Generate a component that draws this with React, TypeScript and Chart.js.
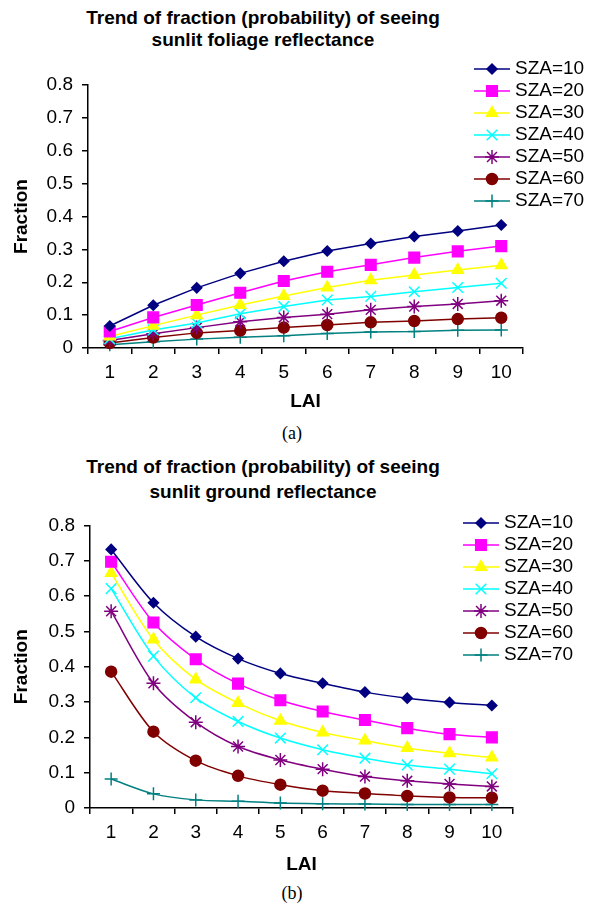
import React, { useEffect, useRef } from "react";
import { Chart, registerables } from "chart.js";
import { drawPoint } from "chart.js/helpers";

Chart.register(...registerables);

// ---------- data ----------
const LAI = ["1", "2", "3", "4", "5", "6", "7", "8", "9", "10"];
const SZA_LABELS = ["SZA=10", "SZA=20", "SZA=30", "SZA=40", "SZA=50", "SZA=60", "SZA=70"];
const Y_MIN = 0;
const Y_MAX = 0.8;
const Y_STEP = 0.1;

// (a) sunlit foliage
const foliage10 = [0.067, 0.130, 0.183, 0.227, 0.264, 0.295, 0.318, 0.339, 0.356, 0.374];
const foliage20 = [0.050, 0.093, 0.131, 0.168, 0.204, 0.232, 0.253, 0.275, 0.294, 0.310];
const foliage30 = [0.035, 0.068, 0.100, 0.131, 0.158, 0.184, 0.206, 0.222, 0.237, 0.252];
const foliage40 = [0.028, 0.055, 0.076, 0.104, 0.126, 0.146, 0.157, 0.171, 0.184, 0.197];
const foliage50 = [0.023, 0.043, 0.062, 0.080, 0.093, 0.103, 0.116, 0.126, 0.134, 0.144];
const foliage60 = [0.015, 0.032, 0.046, 0.053, 0.062, 0.070, 0.078, 0.082, 0.088, 0.092];
const foliage70 = [0.010, 0.019, 0.027, 0.033, 0.037, 0.044, 0.049, 0.050, 0.054, 0.055];

// (b) sunlit ground
const ground10 = [0.732, 0.581, 0.485, 0.423, 0.381, 0.353, 0.328, 0.311, 0.299, 0.290];
const ground20 = [0.697, 0.525, 0.421, 0.352, 0.305, 0.273, 0.249, 0.226, 0.209, 0.200];
const ground30 = [0.665, 0.477, 0.364, 0.297, 0.247, 0.214, 0.191, 0.170, 0.155, 0.143];
const ground40 = [0.621, 0.430, 0.312, 0.245, 0.198, 0.165, 0.141, 0.122, 0.110, 0.097];
const ground50 = [0.557, 0.353, 0.243, 0.174, 0.136, 0.110, 0.089, 0.077, 0.068, 0.061];
const ground60 = [0.386, 0.216, 0.134, 0.091, 0.066, 0.049, 0.041, 0.034, 0.030, 0.029];
const ground70 = [0.082, 0.040, 0.023, 0.019, 0.014, 0.012, 0.011, 0.010, 0.010, 0.010];

const FOLIAGE = [foliage10, foliage20, foliage30, foliage40, foliage50, foliage60, foliage70];
const GROUND = [ground10, ground20, ground30, ground40, ground50, ground60, ground70];

// ---------- styles ----------
const COLORS = ["#000080", "#FF00FF", "#FFFF00", "#00FFFF", "#800080", "#800000", "#008080"];
const POINT_STYLES = ["rectRot", "rect", "triangle", "crossRot", "star", "circle", "cross"];
const POINT_RADII = [5, 7.5, 6.5, 7.5, 7, 5.5, 6.5];
const FONT = "Arial, 'Liberation Sans', Helvetica, sans-serif";

const lineLegend = {
  id: "lineLegend",
  afterDraw(chart: any, _args: any, opts: any) {
    const { ctx } = chart;
    const { x, y, spacing, lineLen, gap, size } = opts;
    chart.data.datasets.forEach((ds: any, i: number) => {
      const cy = y + i * spacing;
      ctx.save();
      ctx.strokeStyle = ds.borderColor;
      ctx.lineWidth = ds.borderWidth;
      ctx.beginPath();
      ctx.moveTo(x, cy);
      ctx.lineTo(x + lineLen, cy);
      ctx.stroke();
      ctx.fillStyle = ds.pointBackgroundColor;
      ctx.strokeStyle = ds.pointBorderColor;
      ctx.lineWidth = ds.pointBorderWidth;
      drawPoint(
        ctx,
        { pointStyle: ds.pointStyle, radius: ds.pointRadius, borderWidth: ds.pointBorderWidth, rotation: 0 } as any,
        x + lineLen / 2,
        cy
      );
      ctx.fillStyle = "#000";
      ctx.font = `${size}px ${FONT}`;
      ctx.textBaseline = "middle";
      ctx.textAlign = "left";
      ctx.fillText(ds.label, x + lineLen + gap, cy);
      ctx.restore();
    });
  },
};

type Props = {
  series: number[][];
  top: number;
  height: number;
  pad: { left: number; top: number; right: number; bottom: number };
  yWidth: number;
  xHeight: number;
  legendX: number;
  legendY: number;
  tension: number;
};

function LineChart({ series, top, height, pad, yWidth, xHeight, legendX, legendY, tension }: Props) {
  const ref = useRef<HTMLCanvasElement>(null);
  useEffect(() => {
    const datasets = series.map((data, i) => ({
      label: SZA_LABELS[i],
      data,
      borderColor: COLORS[i],
      backgroundColor: COLORS[i],
      borderWidth: 1.5,
      pointStyle: POINT_STYLES[i],
      pointRadius: POINT_RADII[i],
      pointHoverRadius: POINT_RADII[i],
      pointBackgroundColor: COLORS[i],
      pointBorderColor: COLORS[i],
      pointBorderWidth: 1.5,
      tension,
      fill: false,
      clip: false as any,
    }));
    const chart = new Chart(ref.current as HTMLCanvasElement, {
      type: "line",
      data: { labels: LAI, datasets },
      plugins: [lineLegend],
      options: {
        responsive: false,
        animation: false,
        layout: { padding: pad },
        plugins: {
          legend: { display: false },
          tooltip: { enabled: false },
          title: { display: false },
          lineLegend: { x: legendX, y: legendY, spacing: 22, lineLen: 36, gap: 5, size: 19 },
        } as any,
        scales: {
          x: {
            type: "category",
            offset: true,
            grid: { offset: true, drawOnChartArea: false, tickLength: 6, color: "#000", lineWidth: 1.5 },
            border: { color: "#000", width: 1.5 },
            ticks: { color: "#000", font: { family: FONT, size: 19 }, padding: 7, maxRotation: 0, autoSkip: false },
            title: { display: true, text: "LAI", color: "#000", font: { family: FONT, size: 19, weight: "bold" }, padding: 0 },
            afterFit: (s: any) => {
              s.height = xHeight;
            },
          },
          y: {
            min: Y_MIN,
            max: Y_MAX,
            grid: { drawOnChartArea: false, tickLength: 6, color: "#000", lineWidth: 1.5 },
            border: { color: "#000", width: 1.5 },
            ticks: {
              stepSize: Y_STEP,
              color: "#000",
              font: { family: FONT, size: 19 },
              padding: 9,
              callback: (v: any) => (Number(v) === 0 ? "0" : Number(v).toFixed(1)),
            },
            title: { display: true, text: "Fraction", color: "#000", font: { family: FONT, size: 19, weight: "bold" }, padding: 0 },
            afterFit: (s: any) => {
              s.width = yWidth;
            },
          },
        },
      } as any,
    });
    return () => chart.destroy();
  }, []);
  return (
    <canvas
      ref={ref}
      width={594}
      height={height}
      style={{ position: "absolute", left: 0, top, width: 594, height, display: "block" }}
    />
  );
}

const titleStyle: React.CSSProperties = {
  position: "absolute",
  left: 0,
  width: 526,
  textAlign: "center",
  fontFamily: FONT,
  fontWeight: "bold",
  fontSize: 19,
  color: "#000",
};

const captionStyle: React.CSSProperties = {
  position: "absolute",
  left: 242,
  width: 100,
  textAlign: "center",
  fontFamily: "'Times New Roman', 'Liberation Serif', serif",
  fontSize: 18,
  lineHeight: "20px",
  color: "#000",
};

export default function App() {
  return (
    <div style={{ position: "absolute", left: 0, top: 0, width: 594, height: 906, background: "#fff", overflow: "hidden" }}>
      <div style={{ ...titleStyle, top: 7, lineHeight: "22px" }}>
        Trend of fraction (probability) of seeing
        <br />
        sunlit foliage reflectance
      </div>
      <LineChart
        series={FOLIAGE}
        top={50}
        height={363}
        pad={{ left: 10, top: 35, right: 71, bottom: 0 }}
        yWidth={78}
        xHeight={65}
        legendX={474}
        legendY={19}
        tension={0}
      />
      <div style={{ ...captionStyle, top: 423 }}>(a)</div>

      <div style={{ ...titleStyle, top: 454, lineHeight: "25px" }}>
        Trend of fraction (probability) of seeing
        <br />
        sunlit ground reflectance
      </div>
      <LineChart
        series={GROUND}
        top={505}
        height={371}
        pad={{ left: 10, top: 20, right: 81, bottom: 0 }}
        yWidth={80}
        xHeight={68}
        legendX={463}
        legendY={18}
        tension={0.3}
      />
      <div style={{ ...captionStyle, top: 883 }}>(b)</div>
    </div>
  );
}
